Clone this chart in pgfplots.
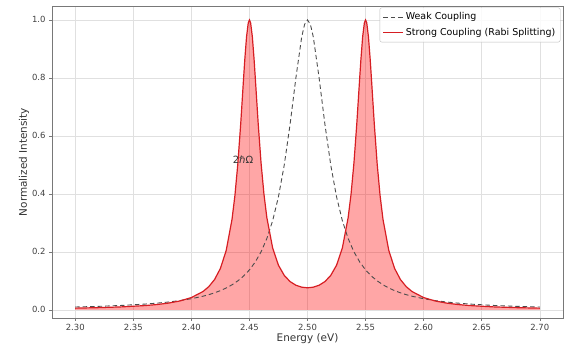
\documentclass[border=0pt]{standalone}
\usepackage{pgfplots}
\pgfplotsset{compat=1.18}
\usepackage{pgfplotstable}
\usepackage{fontspec}
\setmainfont{DejaVu Sans}
\definecolor{linered}{RGB}{214,30,35}
\definecolor{fillred}{RGB}{255,0,0}
\definecolor{framegray}{RGB}{120,120,120}

\pgfplotstableread{
x y
2.30 0.00596
2.32 0.00769
2.34 0.01036
2.36 0.01481
2.37 0.01828
2.38 0.02322
2.39 0.03062
2.40 0.04246
2.41 0.06327
2.415 0.08014
2.42 0.10484
2.425 0.14288
2.43 0.20487
2.435 0.31210
2.4375 0.39418
2.44 0.50322
2.4425 0.64222
2.445 0.80106
2.446 0.86269
2.4475 0.94129
2.449 0.99001
2.45 1.00000
2.451 0.99040
2.4525 0.94226
2.454 0.86424
2.455 0.80301
2.4575 0.64516
2.46 0.50718
2.4625 0.39918
2.465 0.31819
2.47 0.21327
2.475 0.15388
2.48 0.11883
2.485 0.09762
2.49 0.08501
2.495 0.07828
2.50 0.07617
2.505 0.07828
2.51 0.08501
2.515 0.09762
2.52 0.11883
2.525 0.15388
2.53 0.21327
2.535 0.31819
2.5375 0.39918
2.54 0.50718
2.5425 0.64516
2.545 0.80301
2.546 0.86424
2.5475 0.94226
2.549 0.99040
2.55 1.00000
2.551 0.99001
2.5525 0.94129
2.554 0.86269
2.555 0.80106
2.5575 0.64222
2.56 0.50322
2.5625 0.39418
2.565 0.31210
2.57 0.20487
2.575 0.14288
2.58 0.10484
2.585 0.08014
2.59 0.06327
2.60 0.04246
2.61 0.03062
2.62 0.02322
2.63 0.01828
2.64 0.01481
2.66 0.01036
2.68 0.00769
2.70 0.00596
}\strongtable

\pgfplotstableread{
x y
2.30 0.00990
2.32 0.01220
2.34 0.01538
2.36 0.02000
2.37 0.02312
2.38 0.02703
2.39 0.03200
2.40 0.03846
2.41 0.04706
2.415 0.05246
2.42 0.05882
2.425 0.06639
2.43 0.07547
2.435 0.08649
2.44 0.10000
2.445 0.11679
2.45 0.13793
2.455 0.16495
2.46 0.20000
2.465 0.24615
2.47 0.30769
2.475 0.39024
2.48 0.50000
2.485 0.64000
2.49 0.80000
2.495 0.94118
2.4975 0.98462
2.50 1.00000
2.5025 0.98462
2.505 0.94118
2.51 0.80000
2.515 0.64000
2.52 0.50000
2.525 0.39024
2.53 0.30769
2.535 0.24615
2.54 0.20000
2.545 0.16495
2.55 0.13793
2.555 0.11679
2.56 0.10000
2.565 0.08649
2.57 0.07547
2.575 0.06639
2.58 0.05882
2.585 0.05246
2.59 0.04706
2.60 0.03846
2.61 0.03200
2.62 0.02703
2.63 0.02312
2.64 0.02000
2.66 0.01538
2.68 0.01220
2.70 0.00990
}\weaktable

\begin{document}
\begin{tikzpicture}
\begin{axis}[
  scale only axis,
  width=511bp, height=312bp,
  xmin=2.28, xmax=2.72,
  ymin=-0.028, ymax=1.048,
  xtick={2.30,2.35,...,2.71},
  ytick={0,0.2,0.4,0.6,0.8,1.0},
  xticklabel style={/pgf/number format/.cd, fixed, fixed zerofill, precision=2},
  yticklabel style={/pgf/number format/.cd, fixed, fixed zerofill, precision=1},
  /pgf/number format/assume math mode=true,
  ticklabel style={font=\fontsize{8.5}{10}\selectfont, text=black!75},
  label style={font=\fontsize{10.5}{12}\selectfont, text=black!80},
  xlabel={Energy (eV)},
  ylabel={Normalized Intensity},
  xlabel style={yshift=4bp},
  ylabel style={yshift=-4bp},
  grid=major,
  grid style={black!12, line width=0.5pt},
  axis line style={framegray, line width=0.6pt},
  tick style={framegray, line width=0.5pt},
  tick align=outside,
  major tick length=3bp,
  xtick pos=bottom, ytick pos=left,
  legend style={font=\fontsize{9.5}{11}\selectfont, draw=black!25, rounded corners=2pt, fill=white, fill opacity=0.85, text opacity=1, inner xsep=3pt, inner ysep=3pt, row sep=3pt, at={(0.995,0.995)}, anchor=north east},
  legend cell align=left,
  legend image code/.code={\draw[#1] (0cm,0cm) -- (0.7cm,0cm);},
]
\addplot[draw=none, fill=fillred, fill opacity=0.35, forget plot] table[x=x,y=y]{\strongtable} \closedcycle;
\addplot[black!70, dashed, line width=0.9pt, dash pattern=on 4.5pt off 3pt] table[x=x,y=y]{\weaktable};
\addlegendentry{Weak Coupling}
\addplot[linered, line width=1.2pt] table[x=x,y=y]{\strongtable};
\addlegendentry{Strong Coupling (Rabi Splitting)}
\node[font=\fontsize{10}{12}\selectfont, text=black!80] at (axis cs:2.4445,0.517) {2ℏΩ};
\end{axis}
\path (current axis.south west) ++(-52bp,-44bp) coordinate (bbA);
\path (current axis.north east) ++(8bp,6bp) coordinate (bbB);
\useasboundingbox (bbA) rectangle (bbB);
\end{tikzpicture}
\end{document}
